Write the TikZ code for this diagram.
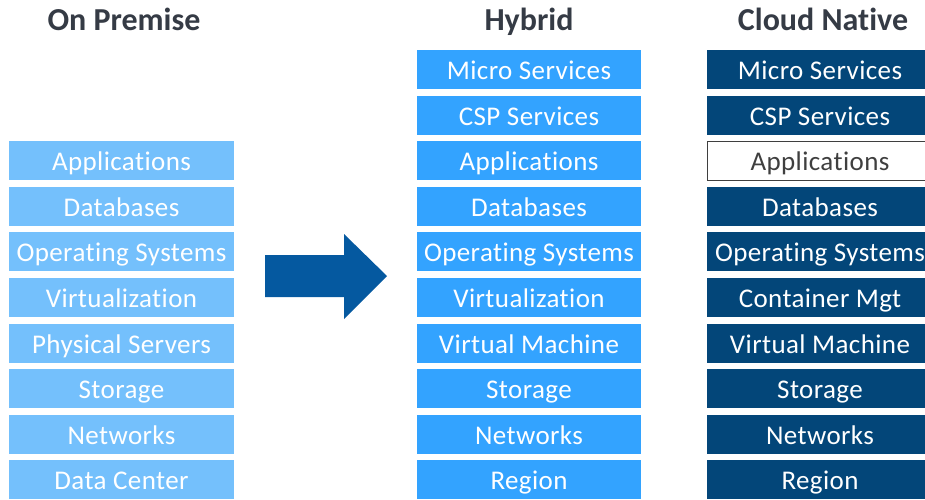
\documentclass[tikz,border=0pt]{standalone}
\usepackage{fontspec}
\setmainfont[Ligatures=NoCommon]{Carlito}
\definecolor{lightb}{HTML}{74C0FC}
\definecolor{midb}{HTML}{33A3FF}
\definecolor{darkb}{HTML}{034679}
\definecolor{arrowb}{HTML}{0559A0}
\definecolor{greytext}{HTML}{3F3F3F}
\definecolor{titlec}{HTML}{353B45}
\tikzset{
  boxbase/.style={minimum height=39pt, inner sep=0pt, outer sep=0pt, font=\fontsize{27}{30}\selectfont\addfontfeature{LetterSpace=1.5}, text height=20pt, text depth=0pt},
  leftbox/.style={boxbase, fill=lightb, text=white, minimum width=225pt},
  hybbox/.style={boxbase, fill=midb, text=white, minimum width=224pt},
  cloudbox/.style={boxbase, fill=darkb, text=white, minimum width=226pt},
  whitebox/.style={boxbase, fill=white, draw=greytext, line width=0.8pt, text=greytext, minimum width=225pt},
  title/.style={font=\bfseries\fontsize{32}{36}\selectfont, text=titlec, anchor=base}
}
\begin{document}
\begin{tikzpicture}[x=1pt,y=-1pt]
\useasboundingbox (0,0) rectangle (925,499);
% titles
\node[title] (t1) at (124,30) {On Premise};
\node[title] (t2) at (529,30) {Hybrid};
\node[title] (t3) at (823,30) {Cloud Native};
% left column (rows 2..9)
\foreach \t [count=\i from 2] in {Applications,Databases,Operating Systems,Virtualization,Physical Servers,Storage,Networks,Data Center}{
  \node[leftbox] (l\i) at (121.5, 50+45.6*\i+19.5) {\t};
}
% hybrid column
\foreach \t [count=\i from 0] in {Micro Services,CSP Services,Applications,Databases,Operating Systems,Virtualization,Virtual Machine,Storage,Networks,Region}{
  \node[hybbox] (h\i) at (529, 50+45.6*\i+19.5) {\t};
}
% cloud native column (extends past the right edge)
\foreach \t [count=\i from 0] in {Micro Services,CSP Services}{
  \node[cloudbox] (c\i) at (820, 50+45.6*\i+19.5) {\t};
}
\node[whitebox] (c2) at (820, 50+45.6*2+19.5) {Applications};
\foreach \t [count=\i from 3] in {Databases,Operating Systems,Container Mgt,Virtual Machine,Storage,Networks,Region}{
  \node[cloudbox] (c\i) at (820, 50+45.6*\i+19.5) {\t};
}
% arrow
\fill[arrowb] (265,255) -- (344,255) -- (344,234) -- (387,276) -- (344,319) -- (344,297) -- (265,297) -- cycle;
\end{tikzpicture}
\end{document}
